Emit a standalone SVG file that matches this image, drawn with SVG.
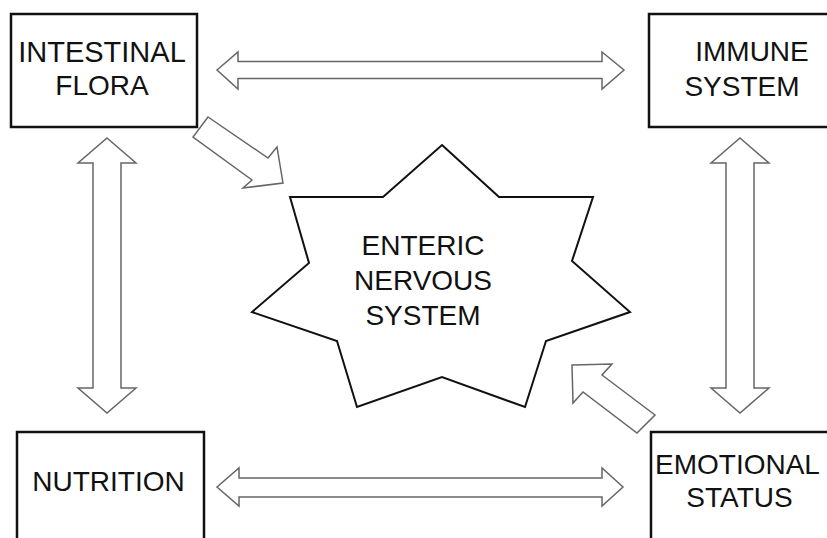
<svg xmlns="http://www.w3.org/2000/svg" width="827" height="538" viewBox="0 0 827 538">
<style>
.box{fill:#fff;stroke:#111;stroke-width:2.5}
.star{fill:#fff;stroke:#111;stroke-width:2;stroke-linejoin:miter}
.arr{fill:#fff;stroke:#666;stroke-width:1.5;stroke-linejoin:miter}
.lbl{font-family:"Liberation Sans",Arial,sans-serif;font-size:28px;fill:#111;text-anchor:middle}
</style>
<rect width="827" height="538" fill="#fff"/>
<g id="connectors">
<polygon class="arr" points="217,70 238,52 238,61.5 602,61.5 602,52 624,70 602,89 602,78.5 238,78.5 238,89"/>
<polygon class="arr" points="217,487 239,468 239,478 602,478 602,468 623,487 602,506 602,497 239,497 239,506"/>
<polygon class="arr" points="107,138 136,163 121,163 121,388 136,388 107,413 78,388 93,388 93,163 78,163"/>
<polygon class="arr" points="740,138 769,163 754,163 754,388 769,388 740,413 711,388 726,388 726,163 711,163"/>
<polygon class="arr" points="208,117 268,158 277,147 283,183 243,188 252,180 193,137"/>
<polygon class="arr" points="572,365 612,364 602,375 655,415 637,433 583,392 573,403"/>
</g>
<g id="intestinal-flora">
<rect class="box" x="11" y="14" width="186" height="113"/>
<text class="lbl" x="102" y="62" style="font-size:29px">INTESTINAL</text>
<text class="lbl" x="102" y="95">FLORA</text>
</g>
<g id="immune-system">
<rect class="box" x="649" y="14" width="200" height="113"/>
<text class="lbl" x="752" y="61">IMMUNE</text>
<text class="lbl" x="742" y="96">SYSTEM</text>
</g>
<g id="nutrition">
<rect class="box" x="17" y="432" width="187" height="130"/>
<text class="lbl" x="108.5" y="491">NUTRITION</text>
</g>
<g id="emotional-status">
<rect class="box" x="651" y="432" width="200" height="130"/>
<text class="lbl" x="737.5" y="474">EMOTIONAL</text>
<text class="lbl" x="739.5" y="507">STATUS</text>
</g>
<g id="enteric-nervous-system">
<polygon class="star" points="442,145 499,197 593,197 572,261 630,312 546,341 525,407 442,377 357,407 337,341 252,312 309,263 290,197 383,197"/>
<text class="lbl" x="423" y="255">ENTERIC</text>
<text class="lbl" x="423" y="290">NERVOUS</text>
<text class="lbl" x="423" y="325">SYSTEM</text>
</g>
</svg>
